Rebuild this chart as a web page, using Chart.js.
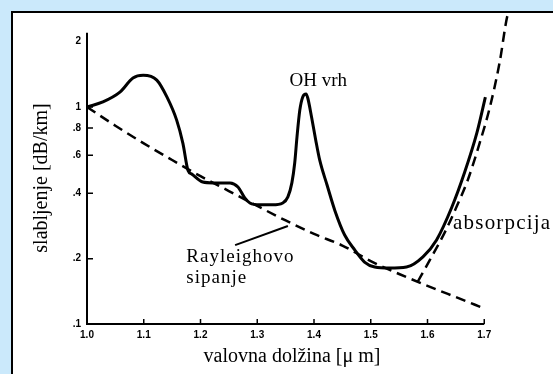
<!DOCTYPE html>
<html>
<head>
<meta charset="utf-8">
<script src="https://cdn.jsdelivr.net/npm/chart.js@4.4.1/dist/chart.umd.min.js"></script>
<style>
  html, body { margin: 0; padding: 0; background: #cbe9fb; overflow: hidden; }
  #okvir { position: absolute; left: 11px; top: 11px; width: 560px; height: 380px; background: #fff; border-left: 2px solid #000; border-top: 2px solid #000; }
  #graf { position: absolute; left: 0; top: 0; }
</style>
</head>
<body>
<div id="okvir"></div>
<canvas id="graf" width="553" height="374" style="width:553px;height:374px;"></canvas>
<script>
/*Podatki*/
var valovnaDolzina = [1.0, 1.028, 1.058, 1.081, 1.099, 1.123, 1.141, 1.158, 1.169, 1.178, 1.185, 1.204, 1.222, 1.252, 1.266, 1.278, 1.287, 1.305, 1.327, 1.345, 1.354, 1.361, 1.366, 1.370, 1.375, 1.380, 1.386, 1.389, 1.396, 1.403, 1.410, 1.423, 1.437, 1.454, 1.472, 1.489, 1.507, 1.533, 1.563, 1.592, 1.616, 1.643, 1.665, 1.687, 1.702];
var slabljenje = [1.0, 1.055, 1.17, 1.36, 1.40, 1.33, 1.11, 0.87, 0.68, 0.51, 0.49, 0.451, 0.447, 0.447, 0.428, 0.381, 0.361, 0.354, 0.354, 0.361, 0.385, 0.447, 0.552, 0.727, 0.968, 1.11, 1.148, 1.10, 0.89, 0.705, 0.57, 0.437, 0.332, 0.257, 0.219, 0.193, 0.183, 0.181, 0.183, 0.204, 0.244, 0.346, 0.496, 0.759, 1.11];

var rayleighX = [1.0, 1.05, 1.1, 1.15, 1.2, 1.25, 1.3, 1.35, 1.4, 1.45, 1.5, 1.55, 1.6, 1.65, 1.7];
var rayleighY = [1.0, 0.82, 0.68, 0.57, 0.48, 0.41, 0.35, 0.30, 0.26, 0.23, 0.195, 0.17, 0.15, 0.133, 0.118];

var absorpcijaX = [1.583, 1.604, 1.630, 1.651, 1.671, 1.692, 1.710, 1.727, 1.741, 1.75];
var absorpcijaY = [0.157, 0.197, 0.263, 0.346, 0.461, 0.683, 1.0, 1.60, 2.65, 3.0];

var xOznake = [1.0, 1.1, 1.2, 1.3, 1.4, 1.5, 1.6, 1.7];
var yOznake = [0.1, 0.2, 0.4, 0.6, 0.8, 1, 2];
var yNapisi = ['.1', '.2', '.4', '.6', '.8', '1', '2'];

function tocke(xs, ys) {
    return xs.map(function (x, i) { return { x: x, y: ys[i] }; });
}

/*Osi, kljukice in napisi*/
var risanje = {
    id: 'risanje',
    afterDatasetsDraw: function (chart) {
        var ctx = chart.ctx;
        var sx = chart.scales.x, sy = chart.scales.y;
        var x0 = sx.getPixelForValue(1.0), x1 = sx.getPixelForValue(1.7);
        var y0 = sy.getPixelForValue(0.1), y1 = sy.getPixelForValue(2.2);
        ctx.save();
        ctx.strokeStyle = '#000';
        ctx.lineWidth = 2;
        ctx.beginPath();
        ctx.moveTo(x0, y1); ctx.lineTo(x0, y0); ctx.lineTo(x1, y0);
        ctx.stroke();
        ctx.lineWidth = 1.5;
        ctx.beginPath();
        xOznake.slice(1).forEach(function (v) {
            var p = sx.getPixelForValue(v);
            ctx.moveTo(p, y0); ctx.lineTo(p, y0 - 5);
        });
        [0.2, 0.4, 0.6, 0.8, 1].forEach(function (v) {
            var p = sy.getPixelForValue(v);
            ctx.moveTo(x0, p); ctx.lineTo(x0 + 6, p);
        });
        ctx.stroke();

        // kazalec za Rayleighovo sipanje
        ctx.lineWidth = 2;
        ctx.beginPath();
        ctx.moveTo(sx.getPixelForValue(1.261), sy.getPixelForValue(0.231));
        ctx.lineTo(sx.getPixelForValue(1.354), sy.getPixelForValue(0.283));
        ctx.stroke();

        ctx.fillStyle = '#000';
        ctx.textBaseline = 'alphabetic';
        ctx.textAlign = 'left';
        ctx.font = '19px "Liberation Serif"';
        ctx.fillText('OH vrh', sx.getPixelForValue(1.357), sy.getPixelForValue(1.25));
        ctx.letterSpacing = '1px';
        ctx.fillText('Rayleighovo', sx.getPixelForValue(1.175), sy.getPixelForValue(0.194));
        ctx.fillText('sipanje', sx.getPixelForValue(1.175), sy.getPixelForValue(0.155));
        ctx.font = '21px "Liberation Serif"';
        ctx.letterSpacing = '1.2px';
        ctx.fillText('absorpcija', sx.getPixelForValue(1.645), sy.getPixelForValue(0.274));
        ctx.letterSpacing = '0px';

        ctx.font = '20px "Liberation Serif"';
        ctx.textAlign = 'center';
        ctx.fillText('valovna dolžina [\u03bc m]', 292, 362);
        ctx.translate(42, 178);
        ctx.rotate(-Math.PI / 2);
        ctx.textBaseline = 'middle';
        ctx.fillText('slabljenje [dB/km]', 0, 0);
        ctx.restore();
    }
};

var ctx = document.getElementById('graf').getContext('2d');

var grafikon = new Chart(ctx, {
    type: 'line',
    data: {
        datasets: [{
            label: 'skupno slabljenje',
            data: tocke(valovnaDolzina, slabljenje),
            borderColor: '#000',
            borderWidth: 3,
            pointRadius: 0,
            cubicInterpolationMode: 'monotone'
        }, {
            label: 'Rayleighovo sipanje',
            data: tocke(rayleighX, rayleighY),
            borderColor: '#000',
            borderWidth: 2.5,
            borderDash: [10, 6],
            pointRadius: 0,
            cubicInterpolationMode: 'monotone'
        }, {
            label: 'absorpcija',
            data: tocke(absorpcijaX, absorpcijaY),
            borderColor: '#000',
            borderWidth: 2.5,
            borderDash: [10, 6],
            pointRadius: 0,
            cubicInterpolationMode: 'monotone'
        }]
    },
    options: {
        responsive: false,
        animation: false,
        layout: { padding: { top: 12, right: 12, left: 0, bottom: 0 } },
        plugins: {
            legend: { display: false },
            tooltip: { enabled: false }
        },
        scales: {
            x: {
                type: 'linear',
                min: 1.0,
                max: 1.8,
                grid: { display: false, drawTicks: false },
                border: { display: false },
                afterFit: function (s) { s.height = 50; },
                afterBuildTicks: function (s) { s.ticks = xOznake.map(function (v) { return { value: v }; }); },
                ticks: {
                    padding: 5,
                    color: '#000',
                    font: { family: '"Liberation Sans"', size: 10, weight: 'bold' },
                    callback: function (v) { return v.toFixed(1); }
                }
            },
            y: {
                type: 'logarithmic',
                min: 0.1,
                max: 2.74,
                grid: { display: false, drawTicks: false },
                border: { display: false },
                afterFit: function (s) { s.width = 87; },
                afterBuildTicks: function (s) { s.ticks = yOznake.map(function (v) { return { value: v }; }); },
                ticks: {
                    padding: 6,
                    color: '#000',
                    font: { family: '"Liberation Sans"', size: 10, weight: 'bold' },
                    callback: function (v) { return yNapisi[yOznake.indexOf(v)]; }
                }
            }
        }
    },
    plugins: [risanje]
});
</script>
</body>
</html>
